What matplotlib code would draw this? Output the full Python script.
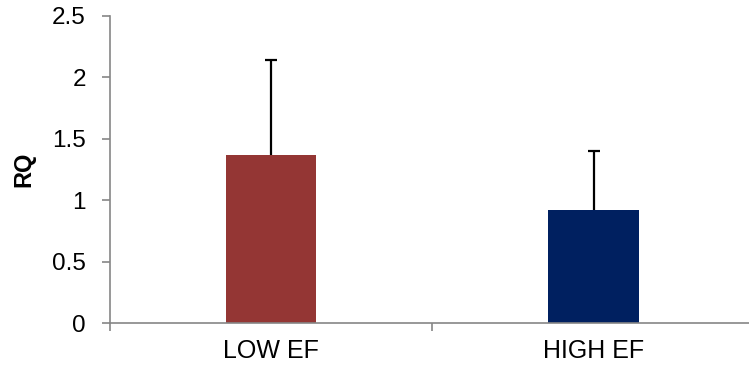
import matplotlib
matplotlib.use("Agg")
import matplotlib.pyplot as plt

categories = ["LOW EF", "HIGH EF"]
rq_values = [1.37, 0.92]
rq_errors = [0.77, 0.48]
bar_colors = ["#943634", "#002060"]

plt.rcParams["font.family"] = ["Liberation Sans", "DejaVu Sans"]

fig = plt.figure(figsize=(7.49, 3.73), dpi=100)
ax = fig.add_axes([0.1462, 0.1332, 1.008 - 0.1462, 0.958 - 0.1332])

x = list(range(len(categories)))
ax.bar(x, rq_values, width=0.28, color=bar_colors, zorder=2)
_, caps, _ = ax.errorbar(x, rq_values, yerr=[[0] * len(rq_errors), rq_errors],
                         fmt="none", ecolor="black", elinewidth=1.6,
                         capsize=4.3, capthick=1.6, zorder=3)
# upper-only error bars: hide the cap sitting on the bar top
caps[0].set_visible(False)

ax.set_xlim(-0.5, len(categories) - 0.5)
ax.set_ylim(0, 2.5)
ax.set_yticks([0, 0.5, 1, 1.5, 2, 2.5])
ax.set_yticklabels(["0", "0.5", "1", "1.5", "2", "2.5"])

# category labels centered on bars, ticks on category boundaries
ax.set_xticks(x)
ax.set_xticklabels(categories)
ax.tick_params(axis="x", which="major", length=0, labelsize=18, pad=11)
ax.set_xticks([i - 0.5 for i in range(len(categories) + 1)], minor=True)
ax.tick_params(axis="x", which="minor", length=6, width=1.2, color="#868686")

ax.tick_params(axis="y", length=6, width=1.2, color="#868686", labelsize=17.5, pad=11)

for side in ["top", "right"]:
    ax.spines[side].set_visible(False)
for side in ["left", "bottom"]:
    ax.spines[side].set_color("#868686")
    ax.spines[side].set_linewidth(1.2)

ax.set_ylabel("RQ", fontsize=17, fontweight="bold", labelpad=12)

fig.savefig("out.png", dpi=100)
